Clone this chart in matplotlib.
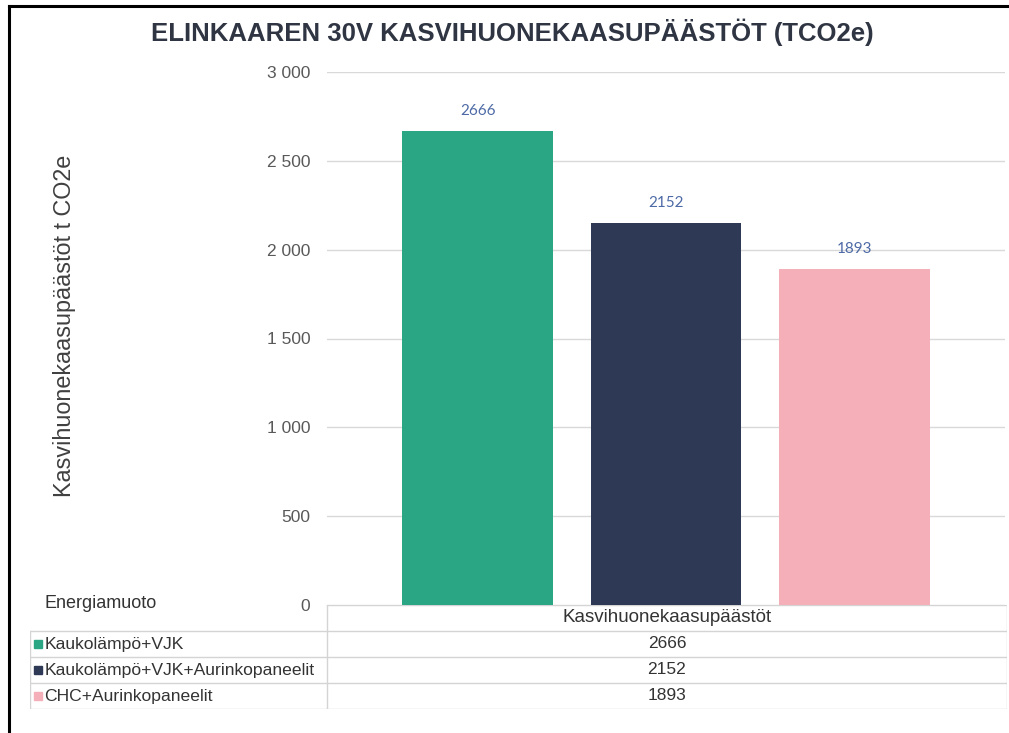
import matplotlib
matplotlib.use("Agg")
import matplotlib.pyplot as plt
from matplotlib.lines import Line2D
from matplotlib.ticker import FuncFormatter

# data
categories = ["Kaukolämpö+VJK", "Kaukolämpö+VJK+Aurinkopaneelit", "CHC+Aurinkopaneelit"]
values = [2666, 2152, 1893]
colors = ["#2ba684", "#2e3a55", "#f5afb8"]
series_name = "Kasvihuonekaasupäästöt"
row_header = "Energiamuoto"
title = "ELINKAAREN 30V KASVIHUONEKAASUPÄÄSTÖT (TCO2e)"
ylabel = "Kasvihuonekaasupäästöt t CO2e"
yticks = [0, 500, 1000, 1500, 2000, 2500, 3000]

W, H = 1009, 733
plt.rcParams["font.family"] = ["Liberation Sans Narrow", "Liberation Sans", "DejaVu Sans"]

fig = plt.figure(figsize=(W / 100, H / 100), dpi=100)

# main bar axes
ax = fig.add_axes([327 / W, 1 - 605 / H, (1005 - 327) / W, (605 - 72) / H])
x = list(range(len(values)))
bars = ax.bar(x, values, width=0.80, color=colors, zorder=2)
ax.set_xlim(-0.80, 2.80)
ax.set_ylim(0, 3000)
ax.set_yticks(yticks)
ax.yaxis.set_major_formatter(FuncFormatter(lambda v, p: f"{int(v):,}".replace(",", " ")))
ax.tick_params(axis="y", length=0, pad=12, labelsize=12.5, labelcolor="#595959")
ax.set_xticks([])
ax.grid(axis="y", color="#d9d9d9", linewidth=1, zorder=0)
for s in ax.spines.values():
    s.set_visible(False)

# value labels above the bars
for rect, v in zip(bars, values):
    ax.annotate(str(v), (rect.get_x() + rect.get_width() / 2, v),
                xytext=(0, 20), textcoords="offset pixels",
                ha="center", va="center", fontsize=11, color="#4d6aa6",
                family=["Lato", "DejaVu Sans"])

fig.text(512 / W, 1 - 32 / H, title, ha="center", va="center", fontsize=18.5,
         fontweight="bold", color="#2f3542")
fig.text(65 / W, 1 - 326 / H, ylabel, rotation=90, ha="center", va="center",
         fontsize=16.8, color="#404040")

# data table under the chart
tab = fig.add_axes([30 / W, 1 - 709 / H, (1007 - 30) / W, (709 - 605) / H])
tab.set_xlim(0, 1)
n = len(values)
tab.set_ylim(n + 1, 0)
tab.axis("off")
split = (327 - 30) / (1007 - 30)
lc = "#d4d4d4"
tab.plot([split, 1], [0, 0], color=lc, lw=1)
tab.plot([split, split], [0, n + 1], color=lc, lw=1)
tab.plot([1, 1], [0, n + 1], color=lc, lw=1)
tab.plot([0, 0], [1, n + 1], color=lc, lw=1)
for r in range(1, n + 2):
    tab.plot([0, 1], [r, r], color=lc, lw=1)

mid = (split + 1) / 2
tab.text(mid, 0.5, series_name, ha="center", va="center", fontsize=13.5, color="#333333")
for i, (c, v, col) in enumerate(zip(categories, values, colors)):
    yy = i + 1.5
    tab.plot([0.0085], [yy], marker="s", markersize=6, color=col, linestyle="none")
    tab.text(0.0145, yy, c, ha="left", va="center", fontsize=12.6, color="#333333")
    tab.text(mid, yy, str(v), ha="center", va="center", fontsize=12.5, color="#333333")

fig.text(45 / W, 1 - 604 / H, row_header, ha="left", va="center", fontsize=13, color="#333333")

# frame lines of the screenshot
fig.add_artist(Line2D([9 / W, 9 / W], [0, 1 - 6 / H], color="black", lw=2.2))
fig.add_artist(Line2D([9 / W, 1], [1 - 6 / H, 1 - 6 / H], color="black", lw=2.2))

fig.savefig("out.png", dpi=100)
